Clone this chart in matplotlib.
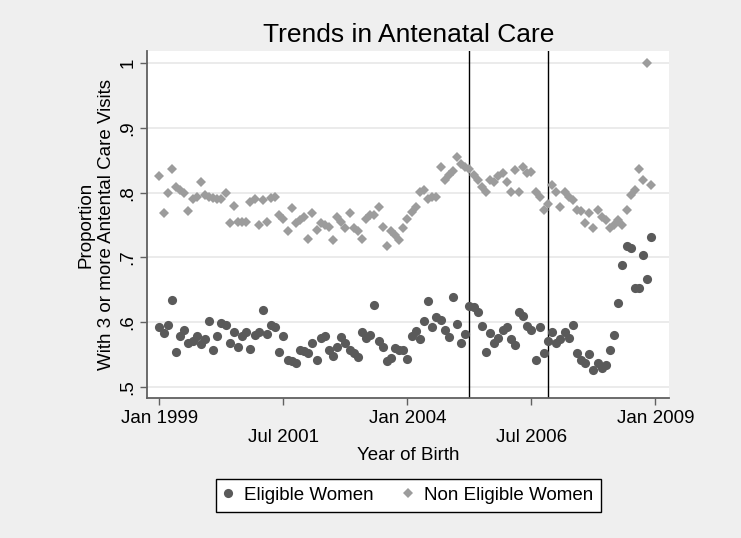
"""
# Trends in antenatal care: monthly share of births with 3+ antenatal visits
"""

### Packages
import matplotlib
matplotlib.use("Agg")
import matplotlib.pyplot as plt

### Data
# Month of birth, counted from Jan 1999 (Stata %tm style)
months = list(range(120))

# Proportion with 3 or more antenatal care visits, eligible women
eligible = [
    0.592, 0.583, 0.596, 0.634, 0.553, 0.578, 0.588, 0.567, 0.570, 0.578,
    0.566, 0.574, 0.601, 0.556, 0.578, 0.599, 0.596, 0.567, 0.584, 0.562,
    0.578, 0.584, 0.559, 0.580, 0.584, 0.618, 0.581, 0.596, 0.592, 0.554,
    0.579, 0.541, 0.539, 0.537, 0.557, 0.555, 0.552, 0.567, 0.541, 0.575,
    0.579, 0.557, 0.547, 0.561, 0.577, 0.568, 0.557, 0.552, 0.546, 0.585,
    0.575, 0.580, 0.627, 0.570, 0.562, 0.539, 0.544, 0.560, 0.557, 0.556,
    0.543, 0.578, 0.586, 0.574, 0.601, 0.632, 0.593, 0.608, 0.603, 0.588,
    0.577, 0.638, 0.597, 0.568, 0.581, 0.625, 0.624, 0.615, 0.594, 0.554,
    0.583, 0.568, 0.575, 0.587, 0.592, 0.573, 0.564, 0.616, 0.610, 0.594,
    0.588, 0.542, 0.592, 0.552, 0.571, 0.585, 0.568, 0.573, 0.585, 0.575,
    0.596, 0.552, 0.542, 0.537, 0.550, 0.526, 0.537, 0.529, 0.533, 0.557,
    0.580, 0.629, 0.688, 0.718, 0.714, 0.652, 0.653, 0.704, 0.666, 0.731,
]

# Same proportion, non eligible women
non_eligible = [
    0.826, 0.768, 0.800, 0.836, 0.809, 0.804, 0.799, 0.771, 0.790, 0.794,
    0.816, 0.797, 0.794, 0.791, 0.790, 0.790, 0.799, 0.753, 0.779, 0.755,
    0.755, 0.755, 0.785, 0.790, 0.750, 0.789, 0.755, 0.791, 0.794, 0.765,
    0.760, 0.740, 0.776, 0.753, 0.758, 0.762, 0.729, 0.768, 0.742, 0.753,
    0.750, 0.747, 0.727, 0.763, 0.755, 0.745, 0.768, 0.745, 0.740, 0.729,
    0.760, 0.765, 0.765, 0.778, 0.747, 0.717, 0.740, 0.735, 0.727, 0.745,
    0.760, 0.770, 0.778, 0.801, 0.804, 0.790, 0.794, 0.794, 0.840, 0.819,
    0.827, 0.833, 0.855, 0.845, 0.840, 0.837, 0.827, 0.819, 0.809, 0.801,
    0.819, 0.817, 0.825, 0.830, 0.817, 0.801, 0.835, 0.801, 0.840, 0.830,
    0.832, 0.801, 0.794, 0.773, 0.783, 0.812, 0.801, 0.778, 0.801, 0.794,
    0.789, 0.773, 0.771, 0.753, 0.768, 0.745, 0.773, 0.763, 0.758, 0.745,
    0.750, 0.758, 0.750, 0.773, 0.796, 0.804, 0.837, 0.819, 1.000, 0.812,
]

# Vertical reference lines (Apr 2005, Nov 2006)
cutoff_months = [75, 94]

# Axis ticks
x_ticks = [0, 30, 60, 90, 120]
x_tick_labels = ["Jan 1999", "\nJul 2001", "Jan 2004", "\nJul 2006", "Jan 2009"]
y_ticks = [0.5, 0.6, 0.7, 0.8, 0.9, 1.0]
y_tick_labels = [".5", ".6", ".7", ".8", ".9", "1"]

### Style
plt.rcParams["font.family"] = ["Liberation Sans", "DejaVu Sans"]
plt.rcParams["font.size"] = 13.5
bg_color = "#efefef"
axis_color = "#606060"
dark_gray = "#5a5a5a"
light_gray = "#9c9c9c"

### Figure
fig = plt.figure(figsize=(7.41, 5.38), dpi=100, facecolor=bg_color)
ax = fig.add_axes([0.199, 0.2593, 0.7045, 0.645])
ax.set_facecolor("white")

# Scatter series
ax.plot(months, eligible, linestyle="none", marker="o", markersize=6.6,
        color=dark_gray, markeredgewidth=0, label="Eligible Women", zorder=3)
ax.plot(months, non_eligible, linestyle="none", marker="D", markersize=5.4,
        color=light_gray, markeredgewidth=0, label="Non Eligible Women", zorder=3)

# Reference lines
for m in cutoff_months:
    ax.axvline(m, color="black", linewidth=1.0, zorder=2)

# Axes limits and ticks
ax.set_xlim(-2.9, 123.4)
ax.set_ylim(0.4818, 1.0182)
ax.set_xticks(x_ticks)
ax.set_xticklabels(x_tick_labels)
ax.set_yticks(y_ticks)
ax.set_yticklabels(y_tick_labels, rotation=90, va="center")
ax.tick_params(axis="both", direction="out", length=5, width=1.0,
               color=axis_color, pad=3, labelsize=13.5)

# Grid only horizontal
ax.grid(axis="y", color="#e6e6e6", linewidth=1.1, zorder=1)
ax.set_axisbelow(True)

# Spines: only left and bottom
for side in ["top", "right"]:
    ax.spines[side].set_visible(False)
for side in ["left", "bottom"]:
    ax.spines[side].set_color(axis_color)
    ax.spines[side].set_linewidth(1.3)

# Labels and title
ax.set_title("Trends in Antenatal Care", fontsize=19, pad=7)
ax.set_xlabel("Year of Birth", fontsize=13.5, va="center")
ax.xaxis.set_label_coords(0.5, -0.1657)
ax.set_ylabel("Proportion\nWith 3 or more Antental Care Visits", fontsize=13.5,
              va="center", linespacing=1.25)
ax.yaxis.set_label_coords(-0.0975, 0.5)

# Legend below the plot
leg = ax.legend(loc="center", bbox_to_anchor=(0.5, -0.2795), ncol=2,
                frameon=True, fancybox=False, edgecolor="black",
                framealpha=1, facecolor="white", borderpad=0.4,
                handlelength=0.44, handletextpad=0.62, columnspacing=1.65,
                fontsize=13.5)
leg.get_frame().set_linewidth(1.0)

fig.savefig("out.png", dpi=100, facecolor=bg_color)
